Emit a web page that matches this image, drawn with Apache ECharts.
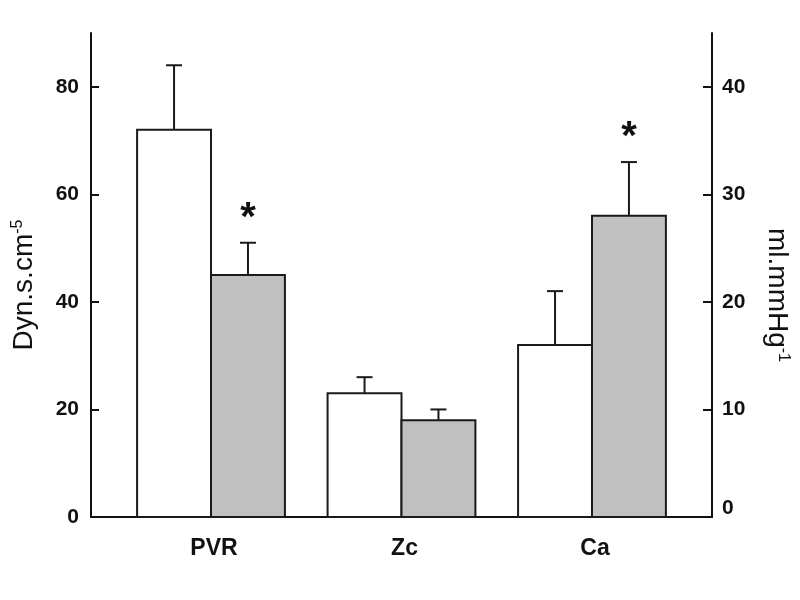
<!DOCTYPE html>
<html>
<head>
<meta charset="utf-8">
<script src="https://cdn.jsdelivr.net/npm/echarts@6/dist/echarts.min.js"></script>
<style>
  html, body { margin: 0; padding: 0; background: #fff; }
  #chart { width: 800px; height: 600px; }
</style>
</head>
<body>
<div id="chart"></div>
<script>
// groups along x; Ca is read on the right axis
const categories = ['PVR', 'Zc', 'Ca'];
const axisOf = [0, 0, 1]; // 0 = Dyn.s.cm-5 (left), 1 = ml.mmHg-1 (right)
const controlValues = [72, 23, 16];
const controlErrors = [12, 3, 5];
const treatedValues = [45, 18, 28];
const treatedErrors = [6, 2, 5];
const treatedMarks = ['*', '', '*'];
const leftTicks = [0, 20, 40, 60, 80];
const rightTicks = [0, 10, 20, 30, 40];

const BAR_W = 0.388; // in x units (one unit = group spacing)
const font = 'Liberation Sans, Arial, sans-serif';

function buildData(axis) {
  const out = [];
  categories.forEach((c, i) => {
    if (axisOf[i] !== axis) return;
    out.push([i, controlValues[i], controlErrors[i], treatedValues[i], treatedErrors[i], treatedMarks[i]]);
  });
  return out;
}

function renderItem(params, api) {
  const x = api.value(0);
  const children = [];
  const bars = [
    { v: api.value(1), e: api.value(2), x0: x - BAR_W, x1: x, fill: '#ffffff', mark: '' },
    { v: api.value(3), e: api.value(4), x0: x, x1: x + BAR_W, fill: '#c0c0c0', mark: api.value(5) }
  ];
  bars.forEach(b => {
    const tl = api.coord([b.x0, b.v]);
    const br = api.coord([b.x1, 0]);
    const cx = (tl[0] + br[0]) / 2;
    const top = api.coord([x, b.v + b.e])[1];
    children.push({
      type: 'rect',
      shape: { x: tl[0], y: tl[1], width: br[0] - tl[0], height: br[1] - tl[1] },
      style: { fill: b.fill, stroke: '#1a1a1a', lineWidth: 2 }
    });
    children.push({
      type: 'line',
      shape: { x1: cx, y1: tl[1], x2: cx, y2: top },
      style: { stroke: '#1a1a1a', lineWidth: 2 }
    });
    children.push({
      type: 'line',
      shape: { x1: cx - 8, y1: top, x2: cx + 8, y2: top },
      style: { stroke: '#1a1a1a', lineWidth: 2 }
    });
    if (b.mark) {
      children.push({
        type: 'text',
        x: cx, y: top - 24,
        style: { text: b.mark, fontSize: 40, fontWeight: 'bold', fontFamily: font,
                 fill: '#111', align: 'center', verticalAlign: 'middle' }
      });
    }
  });
  return { type: 'group', children: children };
}

const chart = echarts.init(document.getElementById('chart'));
const axisStyle = { onZero: false, lineStyle: { color: '#111', width: 2 } };

chart.setOption({
  animation: false,
  backgroundColor: '#fff',
  grid: { left: 91, right: 88, top: 33, bottom: 83 },
  xAxis: {
    type: 'value',
    min: -0.63,
    max: 2.63,
    axisLine: { show: true, onZero: false, lineStyle: { color: '#111', width: 2 } },
    axisTick: { show: false },
    splitLine: { show: false },
    axisLabel: {
      customValues: [0, 1, 2],
      formatter: v => categories[Math.round(v)],
      fontSize: 23,
      fontWeight: 'bold',
      fontFamily: font,
      color: '#111',
      margin: 20,
      padding: [0, 0, 0, 6]
    }
  },
  yAxis: [
    {
      type: 'value', position: 'left', min: 0, max: 90,
      axisLine: Object.assign({ show: true }, axisStyle),
      axisTick: { show: true, inside: true, length: 8, customValues: leftTicks, lineStyle: { color: '#111', width: 2 } },
      splitLine: { show: false },
      axisLabel: { customValues: leftTicks, fontSize: 21, fontWeight: 'bold', fontFamily: font, color: '#111', margin: 12 },
      name: '{m|Dyn.s.cm}{s|-5}',
      nameLocation: 'middle',
      nameGap: 52,
      nameTextStyle: {
        fontFamily: font, color: '#111',
        padding: [0, 20, 0, 0],
        rich: {
          m: { fontSize: 28, fontFamily: font, color: '#111' },
          s: { fontSize: 16, fontFamily: font, color: '#111', padding: [0, 0, 13, 0] }
        }
      }
    },
    {
      type: 'value', position: 'right', min: 0, max: 45,
      axisLine: Object.assign({ show: true }, axisStyle),
      axisTick: { show: true, inside: true, length: 9, customValues: rightTicks, lineStyle: { color: '#111', width: 2 } },
      splitLine: { show: false },
      axisLabel: {
        customValues: rightTicks, fontSize: 21, fontWeight: 'bold', fontFamily: font, color: '#111', margin: 10,
        // the 0 on the right sits a little above the baseline in the original
        formatter: v => v === 0 ? '{z|0}' : String(v),
        rich: { z: { fontSize: 21, fontWeight: 'bold', fontFamily: font, color: '#111', padding: [0, 0, 18, 0] } }
      },
      name: '{m|ml.mmHg}{s|-1}',
      nameLocation: 'middle',
      nameGap: 50,
      nameRotate: -90,
      nameTextStyle: {
        fontFamily: font, color: '#111',
        padding: [0, 0, 0, 40],
        rich: {
          m: { fontSize: 28, fontFamily: font, color: '#111' },
          s: { fontSize: 16, fontFamily: font, color: '#111', padding: [0, 0, 13, 0] }
        }
      }
    }
  ],
  series: [
    { type: 'custom', yAxisIndex: 0, renderItem: renderItem, data: buildData(0), clip: false },
    { type: 'custom', yAxisIndex: 1, renderItem: renderItem, data: buildData(1), clip: false }
  ]
});
</script>
</body>
</html>
